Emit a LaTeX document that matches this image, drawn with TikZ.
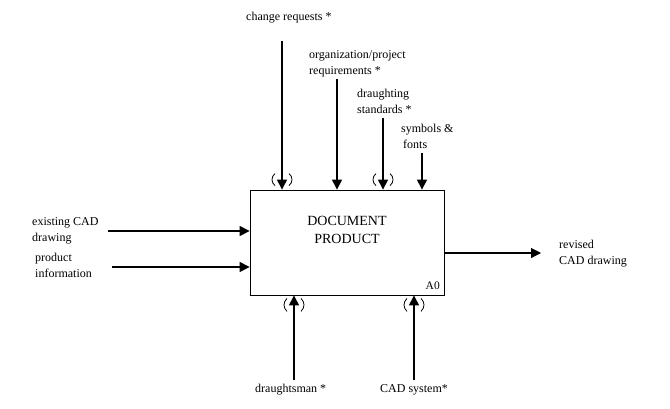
\documentclass[tikz,border=0pt]{standalone}
\usepackage{fontspec}
\setmainfont{Liberation Serif}
\usepackage{tikz}
\usetikzlibrary{arrows.meta,positioning,calc}

\begin{document}
\begin{tikzpicture}[x=1pt, y=-1pt,
    lbl/.style={font=\fontsize{12}{15.5}\selectfont, align=left, anchor=base west, inner sep=0pt},
    arr/.style={-{Triangle[length=10pt,width=10pt]}, line width=1.1pt},
    paren/.style={line width=0.8pt}]
        \useasboundingbox (0,0) rectangle (670,408);
        % Activity box
        \node[draw, line width=0.8pt, minimum width=194pt, minimum height=105pt, inner sep=0pt]
          (a0) at (347,242.5) {};
        \node[font=\fontsize{14}{18}\selectfont, align=center, anchor=base, inner sep=0pt]
          (a0title) at (347,243) {DOCUMENT\\PRODUCT};
        \node[lbl, anchor=base east, font=\fontsize{11.5}{13}\selectfont] (a0num) at (440,289) {A0};
        % Controls (base anchor sits on the last line)
        \node[lbl] (chg) at (246,20) {change requests *};
        \node[lbl] (orgreq) at (309,74) {organization/project\\requirements *};
        \node[lbl] (dstd) at (357,113) {draughting\\standards *};
        \node[lbl] (symb) at (401,148) {symbols \&\\\hspace{2pt}fonts};
        \coordinate (chgtop) at (282,41);
        \coordinate (orgtop) at (337,79);
        \coordinate (dstdtop) at (383,118);
        \coordinate (symbtop) at (422,153);
        \draw[arr] (chgtop) -- (chgtop |- a0.north);
        \draw[arr] (orgtop) -- (orgtop |- a0.north);
        \draw[arr] (dstdtop) -- (dstdtop |- a0.north);
        \draw[arr] (symbtop) -- (symbtop |- a0.north);
        % Inputs
        \node[lbl] (cadin) at (32,241) {existing CAD\\drawing};
        \node[lbl] (prodinfo) at (35,277) {product\\information};
        \coordinate (cadinend) at (108,231);
        \coordinate (prodinfoend) at (112,267);
        \draw[arr] (cadinend) -- (cadinend -| a0.west);
        \draw[arr] (prodinfoend) -- (prodinfoend -| a0.west);
        % Output
        \node[lbl] (cadout) at (559,264) {revised\\CAD drawing};
        \coordinate (cadoutend) at (541,253);
        \draw[arr] (cadoutend -| a0.east) -- (cadoutend);
        % Mechanisms
        \node[lbl] (drman) at (255,392) {draughtsman *};
        \node[lbl] (cadsys) at (380,392) {CAD system*};
        \coordinate (drmanend) at (294,380);
        \coordinate (cadsysend) at (414,380);
        \draw[arr] (drmanend) -- (drmanend |- a0.south);
        \draw[arr] (cadsysend) -- (cadsysend |- a0.south);
        % Tunnel brackets
        \foreach \p in {chgtop, dstdtop} {
          \draw[paren] ($(\p |- a0.north)+(-7,-16)$) .. controls +(-4,3) and +(-4,-3) .. ++(0,12);
          \draw[paren] ($(\p |- a0.north)+(7,-16)$) .. controls +(4,3) and +(4,-3) .. ++(0,12);
        }
        \foreach \p in {drmanend, cadsysend} {
          \draw[paren] ($(\p |- a0.south)+(-7,3)$) .. controls +(-4,4) and +(-4,-4) .. ++(0,13);
          \draw[paren] ($(\p |- a0.south)+(7,3)$) .. controls +(4,4) and +(4,-4) .. ++(0,13);
        }
\end{tikzpicture}
\end{document}
